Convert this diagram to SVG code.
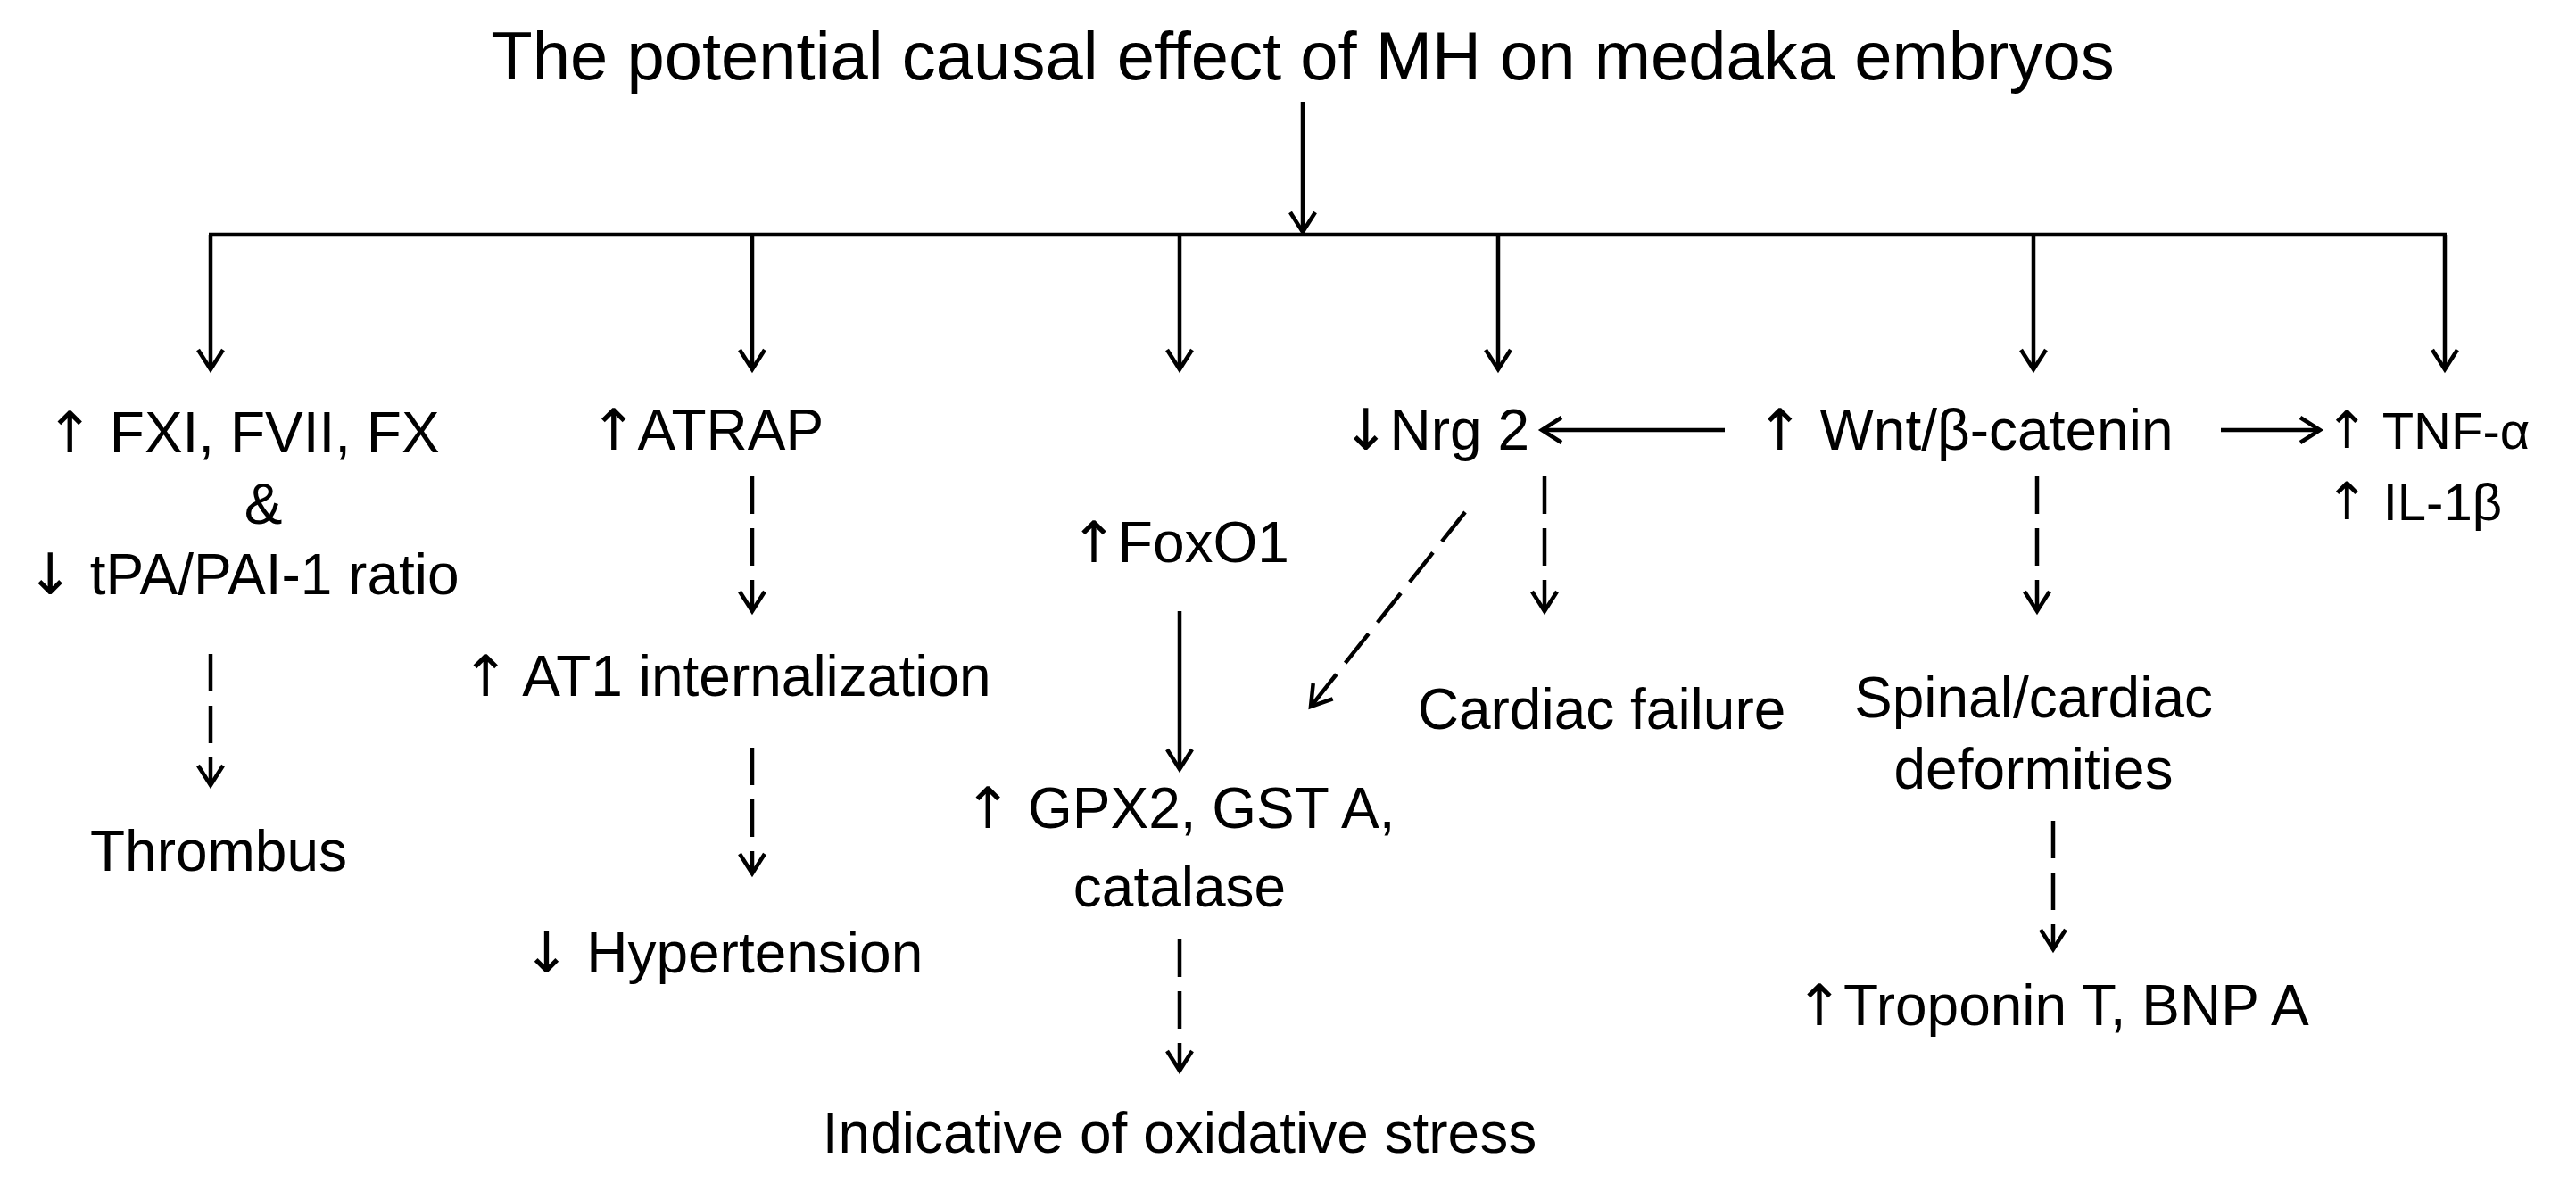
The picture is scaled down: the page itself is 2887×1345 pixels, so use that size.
<svg xmlns="http://www.w3.org/2000/svg" width="2887" height="1345" viewBox="0 0 2887 1345">
<style>
text{font-family:"Liberation Sans","Open Sans",sans-serif;font-size:64px;fill:#000;text-anchor:middle;dominant-baseline:central}
.t{font-size:76px}
.s{text-anchor:start}
.e{text-anchor:end}
.sm{font-size:58px}
.ar{font-family:"DejaVu Sans",sans-serif}
line{stroke:#000;stroke-width:4.5;fill:none}
.a{marker-end:url(#ah)}
.d{stroke-dasharray:42 16}
</style>
<defs><marker id="ah" markerWidth="10" markerHeight="10" refX="8" refY="5" orient="auto" markerUnits="userSpaceOnUse" viewBox="0 0 10 10" style="overflow:visible"><path d="M-14,-9 L8,5 L-14,19" fill="none" stroke="#000" stroke-width="4.5"/></marker></defs>
<g id="connectors">
<line class="a" x1="1460" y1="114" x2="1460" y2="260"/>
<line x1="234" y1="263" x2="2742" y2="263"/>
<line class="a" x1="236" y1="263" x2="236" y2="414"/>
<line class="a" x1="843" y1="263" x2="843" y2="414"/>
<line class="a" x1="1322" y1="263" x2="1322" y2="414"/>
<line class="a" x1="1679" y1="263" x2="1679" y2="414"/>
<line class="a" x1="2279" y1="263" x2="2279" y2="414"/>
<line class="a" x1="2740" y1="263" x2="2740" y2="414"/>
<line class="a d" x1="236" y1="733" x2="236" y2="880"/>
<line class="a d" x1="843" y1="534" x2="843" y2="685"/>
<line class="a d" x1="843" y1="838" x2="843" y2="979"/>
<line class="a" x1="1322" y1="685" x2="1322" y2="862"/>
<line class="a d" x1="1322" y1="1053" x2="1322" y2="1200"/>
<line class="a" x1="1933" y1="482" x2="1728" y2="482"/>
<line class="a" x1="2489" y1="482" x2="2600" y2="482"/>
<line class="a d" x1="1642" y1="574" x2="1469" y2="792"/>
<line class="a d" x1="1731" y1="534" x2="1731" y2="685"/>
<line class="a d" x1="2283" y1="534" x2="2283" y2="685"/>
<line class="a d" x1="2301" y1="920" x2="2301" y2="1064"/>
</g>
<g id="title"><text class="t" x="1460" y="62">The potential causal effect of MH on medaka embryos</text></g>
<g id="n1"><text x="272" y="485"><tspan class="ar">↑</tspan> FXI, FVII, FX</text><text x="295" y="565">&amp;</text><text x="272" y="644"><tspan class="ar">↓</tspan> tPA/PAI-1 ratio</text></g>
<g id="n2"><text x="245" y="954">Thrombus</text></g>
<g id="n3"><text x="792" y="482"><tspan class="ar">↑</tspan>ATRAP</text></g>
<g id="n4"><text x="814" y="758"><tspan class="ar">↑</tspan> AT1 internalization</text></g>
<g id="n5"><text x="810" y="1068"><tspan class="ar">↓</tspan> Hypertension</text></g>
<g id="n6"><text x="1322" y="608"><tspan class="ar">↑</tspan>FoxO1</text></g>
<g id="n7"><text x="1322" y="906"><tspan class="ar">↑</tspan> GPX2, GST A,</text><text x="1322" y="994">catalase</text></g>
<g id="n8"><text x="1322" y="1270">Indicative of oxidative stress</text></g>
<g id="n9"><text class="e" x="1714" y="482"><tspan class="ar">↓</tspan>Nrg 2</text></g>
<g id="n10"><text class="s" x="1968" y="482"><tspan class="ar">↑</tspan> Wnt/β-catenin</text></g>
<g id="n11"><text class="s sm" x="2606" y="482"><tspan class="ar">↑</tspan> TNF-α</text><text class="s sm" x="2606" y="562"><tspan class="ar">↑</tspan> IL-1β</text></g>
<g id="n12"><text x="1795" y="795">Cardiac failure</text></g>
<g id="n13"><text x="2279" y="782">Spinal/cardiac</text><text x="2279" y="862">deformities</text></g>
<g id="n14"><text x="2300" y="1127"><tspan class="ar">↑</tspan>Troponin T, BNP A</text></g>
</svg>
